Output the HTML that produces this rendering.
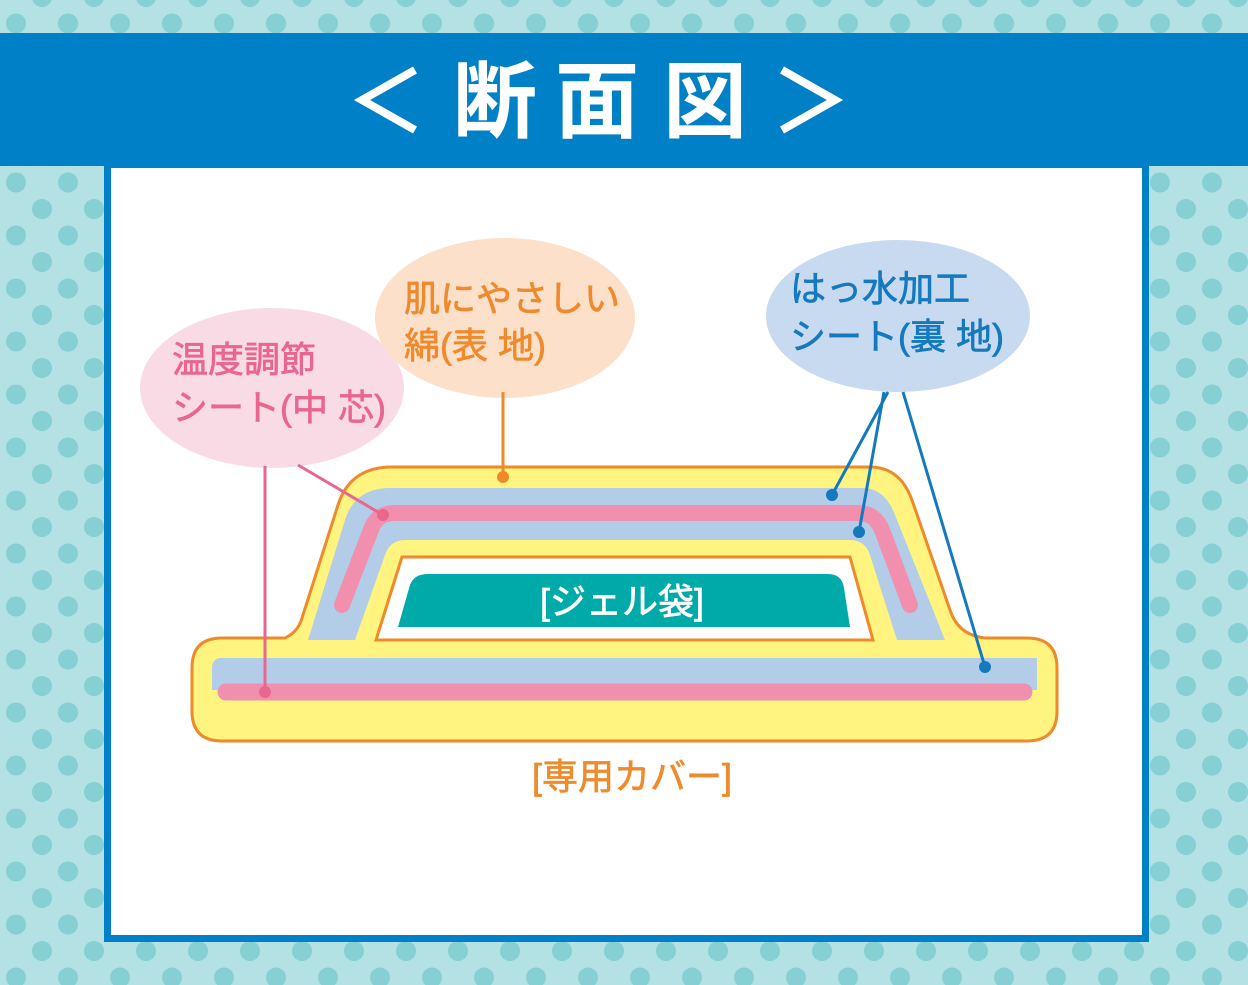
<!DOCTYPE html>
<html><head><meta charset="utf-8"><style>
html,body{margin:0;padding:0;width:1248px;height:985px;overflow:hidden;}
svg{display:block}
text{font-family:"Liberation Sans","Noto Sans CJK JP",sans-serif;}
</style></head><body>
<svg width="1248" height="985" viewBox="0 0 1248 985" xmlns="http://www.w3.org/2000/svg">
<defs>
<pattern id="dots" x="0" y="0" width="52" height="53" patternUnits="userSpaceOnUse" patternTransform="translate(16,-3)">
<rect width="52" height="53" fill="#b4e1e4"/>
<circle cx="26" cy="0" r="10" fill="#86cfd3"/>
<circle cx="26" cy="53" r="10" fill="#86cfd3"/>
<circle cx="0" cy="26.5" r="10" fill="#86cfd3"/>
<circle cx="52" cy="26.5" r="10" fill="#86cfd3"/>
</pattern>
</defs>
<rect width="1248" height="985" fill="url(#dots)"/>
<rect x="0" y="33" width="1248" height="133" fill="#0080c6"/>
<rect x="104" y="160" width="1045" height="782" fill="#0080c6"/>
<rect x="111" y="168" width="1031" height="767" fill="#fff"/>
<!-- title -->
<polyline points="415,70 362,100 415,130" fill="none" stroke="#fff" stroke-width="8" stroke-linejoin="miter"/>
<polyline points="782,70 835,100 782,130" fill="none" stroke="#fff" stroke-width="8" stroke-linejoin="miter"/>
<text x="495" y="131" font-size="84" font-weight="bold" fill="#fff" text-anchor="middle">断</text>
<text x="597" y="131" font-size="84" font-weight="bold" fill="#fff" text-anchor="middle">面</text>
<text x="705" y="131" font-size="84" font-weight="bold" fill="#fff" text-anchor="middle">図</text>
<!-- bubbles -->
<ellipse cx="272" cy="388" rx="132" ry="80" fill="#f9dbe5"/>
<ellipse cx="505" cy="318" rx="130" ry="80" fill="#fce0c9"/>
<ellipse cx="898" cy="316" rx="132" ry="76" fill="#c8daf0"/>
<g font-size="36" stroke-width="0.7">
<text x="172" y="372" fill="#e8668f" stroke="#e8668f">温度調節</text>
<text x="172" y="420" fill="#e8668f" stroke="#e8668f">シート(中 芯)</text>
<text x="404" y="311" fill="#ef8a2d" stroke="#ef8a2d">肌にやさしい</text>
<text x="404" y="358" fill="#ef8a2d" stroke="#ef8a2d">綿(表 地)</text>
<text x="790" y="301" fill="#1479bd" stroke="#1479bd">はっ水加工</text>
<text x="790" y="349" fill="#1479bd" stroke="#1479bd">シート(裏 地)</text>
</g>
<!-- shape -->
<path d="M222,638 L285,638 Q298,632 302,618 L338,505 Q350,467 392,467 L870,467 Q900,467 912,500 L950,610 Q958,635 985,638 L1027,638 Q1057,638 1057,668 L1057,711 Q1057,741 1027,741 L222,741 Q192,741 192,711 L192,668 Q192,638 222,638 Z" fill="#fff480" stroke="#ee8a2a" stroke-width="3"/>
<path d="M308,640 L345,520 Q355,488 390,488 L862,488 Q885,488 895,515 L945,640 Z" fill="#b3cce8"/>
<path d="M355,640 L385,555 Q390,540 405,540 L850,540 Q865,540 870,555 L897,640 Z" fill="#fff480"/>
<path d="M402,557 L850,557 L873,640 L376,640 Z" fill="#fff" stroke="#ee8a2a" stroke-width="3"/>
<path d="M398,627 L410,585 Q414,574 428,574 L828,574 Q842,574 844,588 L850,627 Z" fill="#00aaa9"/>
<text x="622" y="614" font-size="36" fill="#fff" stroke="#fff" stroke-width="0.7" text-anchor="middle">[ジェル袋]</text>
<path d="M342,605 L372,527 Q378,513 395,513 L858,513 Q875,513 882,530 L910,605" fill="none" stroke="#f090ae" stroke-width="16" stroke-linecap="round" stroke-linejoin="round"/>
<path d="M222,658 L1037,658 L1037,690 L212,690 L212,668 Q212,658 222,658 Z" fill="#b3cce8"/>
<line x1="226" y1="692" x2="1024" y2="692" stroke="#f090ae" stroke-width="17" stroke-linecap="round"/>
<text x="632" y="789" font-size="36" fill="#ef8a2d" stroke="#ef8a2d" stroke-width="0.7" text-anchor="middle">[専用カバー]</text>
<!-- connectors -->
<g stroke-width="3" fill="none">
<line x1="265" y1="466" x2="265" y2="692" stroke="#e8668f"/>
<line x1="298" y1="465" x2="383" y2="515" stroke="#e8668f"/>
<line x1="503" y1="392" x2="503" y2="477" stroke="#ee8a2a"/>
<line x1="888" y1="392" x2="832" y2="495" stroke="#1479bd"/>
<line x1="884" y1="392" x2="859" y2="532" stroke="#1479bd"/>
<line x1="903" y1="392" x2="985" y2="667" stroke="#1479bd"/>
</g>
<circle cx="265" cy="692" r="6" fill="#e8668f"/>
<circle cx="383" cy="515" r="6" fill="#e8668f"/>
<circle cx="503" cy="477" r="6" fill="#ee8a2a"/>
<circle cx="832" cy="495" r="6" fill="#1479bd"/>
<circle cx="859" cy="532" r="6" fill="#1479bd"/>
<circle cx="985" cy="667" r="6" fill="#1479bd"/>
</svg>
</body></html>
